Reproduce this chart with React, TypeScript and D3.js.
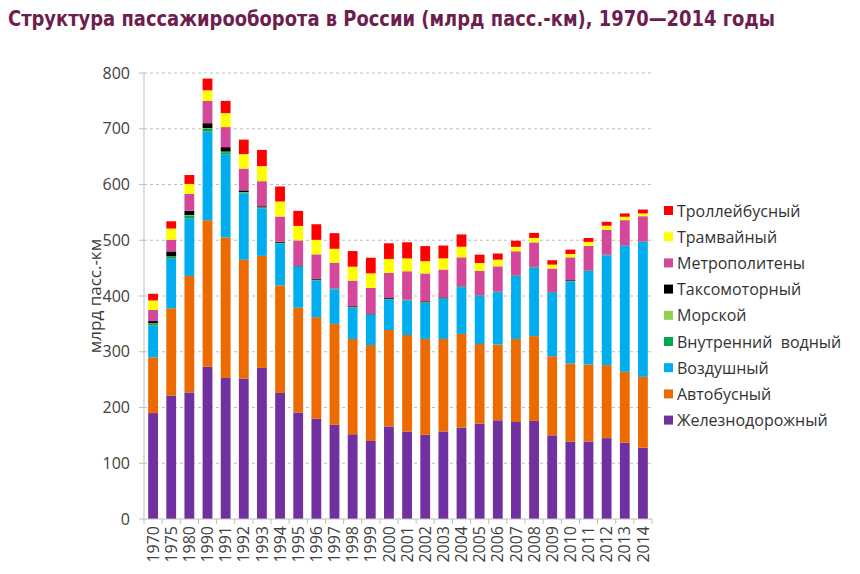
import React from 'react';
import * as d3 from 'd3';

const years = ['1970', '1975', '1980', '1990', '1991', '1992', '1993', '1994', '1995', '1996', '1997', '1998', '1999', '2000',
  '2001', '2002', '2003', '2004', '2005', '2006', '2007', '2008', '2009', '2010', '2011', '2012', '2013', '2014'];

// млрд пасс.-км
const rail = [190, 221, 227, 273, 253, 252, 271, 226, 191, 180, 169, 152, 140, 166, 157, 151, 157, 164, 171, 177, 174, 176, 150, 139, 139, 145, 137, 128];
const bus = [100, 157, 209, 263, 252, 213, 201, 193, 188, 182, 181, 171, 172, 173, 173, 172, 166, 168, 143, 136, 149, 152, 142, 140, 138, 131, 127, 127];
const air = [57, 89, 103, 159, 149, 119, 85, 75, 73, 66, 62, 56, 54, 55, 62, 65, 72, 84, 86, 94, 113, 123, 114, 147, 168, 197, 226, 242];
const inland = [3, 3, 5, 5, 4, 2, 1.5, 1.2, 1, 1, 1, 0.9, 0.9, 0.9, 0.9, 0.9, 0.9, 0.9, 0.8, 0.8, 0.8, 0.8, 0.8, 0.7, 0.7, 0.7, 0.7, 0.7];
const sea = [1, 1, 1, 1, 1, 0.5, 0.5, 0.3, 0.2, 0.2, 0.2, 0.2, 0.2, 0.1, 0.1, 0.1, 0.1, 0.1, 0.1, 0.1, 0.1, 0.1, 0.1, 0.1, 0.1, 0.1, 0.1, 0.1];
const taxi = [4, 9, 8, 9, 8, 3, 2, 2, 1.5, 1.5, 0.5, 1.5, 1.5, 1.5, 0.4, 1.5, 1.5, 0.4, 0.3, 0.3, 0.3, 0.3, 0.3, 1.5, 0.3, 0.3, 0.3, 0.3];
const metro = [20, 21, 30, 40, 36, 39, 45, 45, 45, 44, 46, 46, 46, 45, 51, 50, 50, 52, 44, 45, 43, 44, 42, 41, 44, 45, 45, 45];
const tram = [17, 20, 18, 19, 25, 26, 27, 27, 26, 26, 25, 25, 26, 25, 23, 22, 20, 19, 14, 12, 8, 8, 7, 6, 7, 7, 6, 5];
const trolley = [12, 13, 16, 21, 22, 26, 29, 27, 27, 28, 28, 28, 28, 28, 29, 27, 23, 22, 15, 11, 11, 9, 8, 8, 7, 7, 6, 7];

const yTicks = [0, 100, 200, 300, 400, 500, 600, 700, 800];

const series = [
  { key: 'rail', name: 'Железнодорожный', color: '#7030a0', values: rail },
  { key: 'bus', name: 'Автобусный', color: '#ec6a00', values: bus },
  { key: 'air', name: 'Воздушный', color: '#00adef', values: air },
  { key: 'inland', name: 'Внутренний  водный', color: '#00a651', values: inland },
  { key: 'sea', name: 'Морской', color: '#92d050', values: sea },
  { key: 'taxi', name: 'Таксомоторный', color: '#000000', values: taxi },
  { key: 'metro', name: 'Метрополитены', color: '#d4479b', values: metro },
  { key: 'tram', name: 'Трамвайный', color: '#ffff00', values: tram },
  { key: 'trolley', name: 'Троллейбусный', color: '#ff0000', values: trolley },
];

const W = 860;
const H = 574;
const left = 144;
const right = 652;
const top = 73;
const bottom = 519;
const font = '"Open Sans", "DejaVu Sans", sans-serif';
const textColor = '#404040';

export default function App() {
  const rows = years.map((y, i) => {
    const r: any = { year: y };
    series.forEach(s => { r[s.key] = s.values[i]; });
    return r;
  });
  const stacked = d3.stack().keys(series.map(s => s.key))(rows);

  const x = d3.scaleBand().domain(years).range([left, right]).paddingInner(0.46).paddingOuter(0.23);
  const y = d3.scaleLinear().domain([0, 800]).range([bottom, top]);
  const step = x.step();
  const bounds = d3.range(years.length + 1).map(i => left + i * step);

  const legendItems = series.slice().reverse();

  return (
    <div style={{ position: 'absolute', left: 0, top: 0 }}>
      <svg width={W} height={H} style={{ display: 'block', background: '#fff' }}>
        <text x={8} y={26} fontFamily='"DejaVu Sans Condensed", "Liberation Sans Narrow", sans-serif' fontWeight="bold"
          fontSize={22} fill="#6e1e4e" textLength={767} lengthAdjust="spacingAndGlyphs">
          Структура пассажирооборота в России (млрд пасс.-км), 1970—2014 годы
        </text>

        {/* grid */}
        {yTicks.filter(t => t > 0).map(t => (
          <line key={t} x1={left} x2={right} y1={y(t)} y2={y(t)} stroke="#bfbfbf" strokeDasharray="3,3" />
        ))}

        {/* y axis */}
        <line x1={left} x2={left} y1={top} y2={bottom} stroke="#bfbfbf" />
        {yTicks.map(t => (
          <g key={t}>
            <line x1={left - 5} x2={left} y1={y(t)} y2={y(t)} stroke="#bfbfbf" />
            <text x={130} y={y(t)} dy="0.35em" textAnchor="end" fontFamily={font} fontSize={16} fill={textColor}>{t}</text>
          </g>
        ))}
        <text transform={`translate(95,${(top + bottom) / 2}) rotate(-90)`} textAnchor="middle" dy="0.35em"
          fontFamily={font} fontSize={17} fill="#3a3a3a">млрд пасс.-км</text>

        {/* bars */}
        {stacked.map((layer, li) => (
          <g key={layer.key} fill={series[li].color}>
            {layer.map((d: any, i: number) => (
              <rect key={i} x={x(years[i])} width={x.bandwidth()} y={y(d[1])} height={Math.max(0, y(d[0]) - y(d[1]))} />
            ))}
          </g>
        ))}

        {/* x axis */}
        <line x1={left} x2={right} y1={bottom} y2={bottom} stroke="#bfbfbf" />
        {bounds.map((b, i) => (
          <line key={i} x1={b} x2={b} y1={bottom} y2={bottom + 5} stroke="#bfbfbf" />
        ))}
        {years.map(yr => (
          <text key={yr} transform={`translate(${(x(yr) as number) + x.bandwidth() / 2},${bottom + 7}) rotate(-90)`}
            textAnchor="end" dy="0.35em" fontFamily={font} fontSize={16} fill={textColor}>{yr}</text>
        ))}

        {/* legend */}
        {legendItems.map((s, i) => (
          <g key={s.key} transform={`translate(664,${211 + i * 26.2})`}>
            <rect x={0} y={-5} width={9} height={9} fill={s.color} />
            <text x={13} y={0} dy="0.35em" fontFamily={font} fontSize={16} fill="#333" style={{ whiteSpace: 'pre' }}>{s.name}</text>
          </g>
        ))}
      </svg>
    </div>
  );
}
